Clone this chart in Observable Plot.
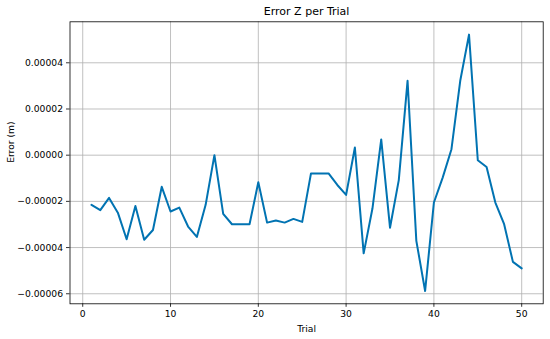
<!DOCTYPE html>
<html>
<head>
<meta charset="utf-8">
<script src="https://cdn.jsdelivr.net/npm/d3@7"></script>
<script src="https://cdn.jsdelivr.net/npm/@observablehq/plot@0.6"></script>
<style>
  html, body { margin: 0; padding: 0; background: white; }
</style>
</head>
<body>
<div id="chart"></div>
<script>
const trials = [1,2,3,4,5,6,7,8,9,10,11,12,13,14,15,16,17,18,19,20,21,22,23,24,25,26,27,28,29,30,31,32,33,34,35,36,37,38,39,40,41,42,43,44,45,46,47,48,49,50];
const errorZ = [
  -2.15e-5, -2.38e-5, -1.85e-5, -2.49e-5, -3.64e-5, -2.20e-5, -3.66e-5, -3.24e-5, -1.37e-5, -2.44e-5,
  -2.27e-5, -3.09e-5, -3.54e-5, -2.15e-5, 0.0, -2.54e-5, -2.99e-5, -2.99e-5, -2.99e-5, -1.17e-5,
  -2.92e-5, -2.83e-5, -2.92e-5, -2.76e-5, -2.89e-5, -0.79e-5, -0.79e-5, -0.79e-5, -1.29e-5, -1.72e-5,
  0.33e-5, -4.25e-5, -2.31e-5, 0.68e-5, -3.14e-5, -1.08e-5, 3.22e-5, -3.71e-5, -5.88e-5, -2.05e-5,
  -0.97e-5, 0.26e-5, 3.22e-5, 5.22e-5, -0.22e-5, -0.51e-5, -2.05e-5, -2.99e-5, -4.62e-5, -4.90e-5
];
const xTicks = [0, 10, 20, 30, 40, 50];
const yTicks = [-0.00006, -0.00004, -0.00002, 0, 0.00002, 0.00004];
const title = "Error Z per Trial";
const xLabel = "Trial";
const yLabel = "Error (m)";

const data = trials.map((t, i) => ({trial: t, error: errorZ[i]}));

function pad(ext) {
  const r = ext[1] - ext[0];
  return [ext[0] - 0.05 * r, ext[1] + 0.05 * r];
}

const fs = 9.2;
const chart = Plot.plot({
  width: 550,
  height: 339,
  marginLeft: 69.5,
  marginRight: 7.3,
  marginTop: 21.3,
  marginBottom: 35.7,
  style: {fontFamily: "DejaVu Sans", fontSize: fs + "px", background: "white", color: "#000"},
  x: {domain: pad(d3.extent(trials)), label: null},
  y: {domain: pad(d3.extent(errorZ)), label: null},
  marks: [
    Plot.gridX(xTicks, {stroke: "#b0b0b0", strokeOpacity: 1, strokeWidth: 0.8}),
    Plot.gridY(yTicks, {stroke: "#b0b0b0", strokeOpacity: 1, strokeWidth: 0.8}),
    Plot.line(data, {x: "trial", y: "error", stroke: "#0173b2", strokeWidth: 2}),
    Plot.frame({stroke: "#000", strokeWidth: 0.8}),
    Plot.axisX(xTicks, {tickSize: 3.5, tickPadding: 3, tickFormat: d => String(d), label: null, fontSize: fs, strokeWidth: 0.8}),
    Plot.axisY(yTicks, {tickSize: 3.5, tickPadding: 3.5, tickFormat: d3.format(".5f"), label: null, fontSize: fs, strokeWidth: 0.8}),
    Plot.text([title], {frameAnchor: "top", dy: -10, text: d => d, fontSize: 11, lineAnchor: "middle"}),
    Plot.text([xLabel], {frameAnchor: "bottom", dy: 25, text: d => d, fontSize: fs, lineAnchor: "middle"}),
    Plot.text([yLabel], {frameAnchor: "left", dx: -58.8, text: d => d, fontSize: fs, rotate: -90, lineAnchor: "middle"})
  ]
});
document.getElementById("chart").appendChild(chart);
</script>
</body>
</html>
